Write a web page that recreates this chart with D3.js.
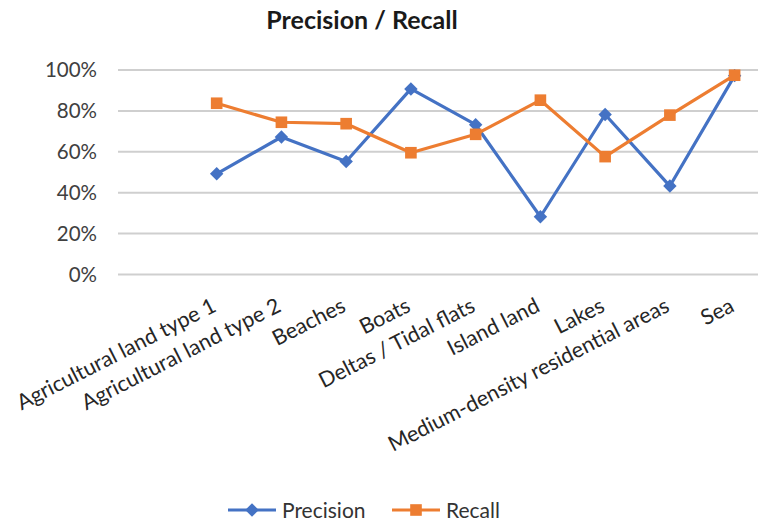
<!DOCTYPE html>
<html>
<head>
<meta charset="utf-8">
<script src="https://cdn.jsdelivr.net/npm/d3@7"></script>
<style>
  html, body { margin: 0; padding: 0; background: #fff; }
  svg { display: block; font-family: Lato, "Open Sans", sans-serif; }
</style>
</head>
<body>
<svg id="chart" width="758" height="524"></svg>
<script>
// Land-cover classes on the category axis
const categories = [
  "Agricultural land type 1",
  "Agricultural land type 2",
  "Beaches",
  "Boats",
  "Deltas / Tidal flats",
  "Island land",
  "Lakes",
  "Medium-density residential areas",
  "Sea"
];
// Per-class scores (fractions of 1)
const precision = [0.49, 0.67, 0.55, 0.905, 0.73, 0.28, 0.78, 0.43, 0.97];
const recall    = [0.835, 0.742, 0.735, 0.593, 0.683, 0.85, 0.574, 0.777, 0.972];
const yTicks = [0, 0.2, 0.4, 0.6, 0.8, 1.0];
const seriesNames = ["Precision", "Recall"];
const seriesColors = ["#4472C4", "#ED7D31"];

const svg = d3.select("#chart");

const x = d3.scaleBand().domain(categories).range([184.3, 767]).padding(0);
const y = d3.scaleLinear().domain([0, 1]).range([274, 69.5]);
const cx = c => x(c) + x.bandwidth() / 2;

// Title
svg.append("text")
  .attr("x", 362).attr("y", 29)
  .attr("text-anchor", "middle")
  .attr("font-size", 25).attr("font-weight", "bold")
  .attr("fill", "#1a1a1a")
  .text("Precision / Recall");

// Horizontal gridlines + y tick labels
const yAxis = d3.axisLeft(y).tickValues(yTicks)
  .tickSize(-(758 - 118)).tickPadding(21)
  .tickFormat(d3.format(".0%"));
const gy = svg.append("g").attr("transform", "translate(118,0)").call(yAxis);
gy.select(".domain").remove();
gy.selectAll(".tick line").attr("stroke", "#cfcfcf").attr("stroke-width", 2);
gy.selectAll(".tick text")
  .attr("font-size", 20.5).attr("fill", "#404040")
  .attr("font-family", "Lato, 'Open Sans', sans-serif")
  .attr("dy", "0.36em");

// Rotated category labels
const xAxis = d3.axisBottom(x).tickSize(0).tickPadding(0);
const gx = svg.append("g").attr("transform", "translate(0,311)").call(xAxis);
gx.select(".domain").remove();
gx.selectAll(".tick text")
  .attr("font-size", 21.5).attr("fill", "#262626")
  .attr("font-family", "Lato, 'Open Sans', sans-serif")
  .attr("text-anchor", "end")
  .attr("x", 1).attr("y", 0).attr("dy", 0)
  .attr("transform", "rotate(-27)");

// Series lines and markers, drawn in series order (Recall ends up on top)
const diamond = d3.symbol().type(d3.symbolDiamond2).size(115);
const square = d3.symbol().type(d3.symbolSquare).size(135);
const seriesData = [precision, recall];

const line = d3.line().x((d, i) => cx(categories[i])).y(d => y(d));

[0, 1].forEach(s => {
  const g = svg.append("g");
  g.append("path")
    .datum(seriesData[s])
    .attr("fill", "none")
    .attr("stroke", seriesColors[s])
    .attr("stroke-width", 3.2)
    .attr("stroke-linejoin", "round")
    .attr("d", line);
  g.selectAll("path.m")
    .data(seriesData[s])
    .join("path")
    .attr("class", "m")
    .attr("transform", (d, i) => `translate(${cx(categories[i])},${y(d)})`)
    .attr("d", s === 0 ? diamond : square)
    .attr("fill", seriesColors[s]);
});

// Legend
const legendY = 510;
const legendItems = [
  { name: seriesNames[0], color: seriesColors[0], sym: diamond, x0: 228 },
  { name: seriesNames[1], color: seriesColors[1], sym: square, x0: 392 }
];
const lg = svg.append("g");
legendItems.forEach(it => {
  lg.append("line")
    .attr("x1", it.x0).attr("x2", it.x0 + 48)
    .attr("y1", legendY).attr("y2", legendY)
    .attr("stroke", it.color).attr("stroke-width", 3.2);
  lg.append("path")
    .attr("transform", `translate(${it.x0 + 24},${legendY})`)
    .attr("d", it.sym).attr("fill", it.color);
  lg.append("text")
    .attr("x", it.x0 + 54).attr("y", legendY).attr("dy", "0.36em")
    .attr("font-size", 21).attr("fill", "#333")
    .text(it.name);
});
</script>
</body>
</html>
